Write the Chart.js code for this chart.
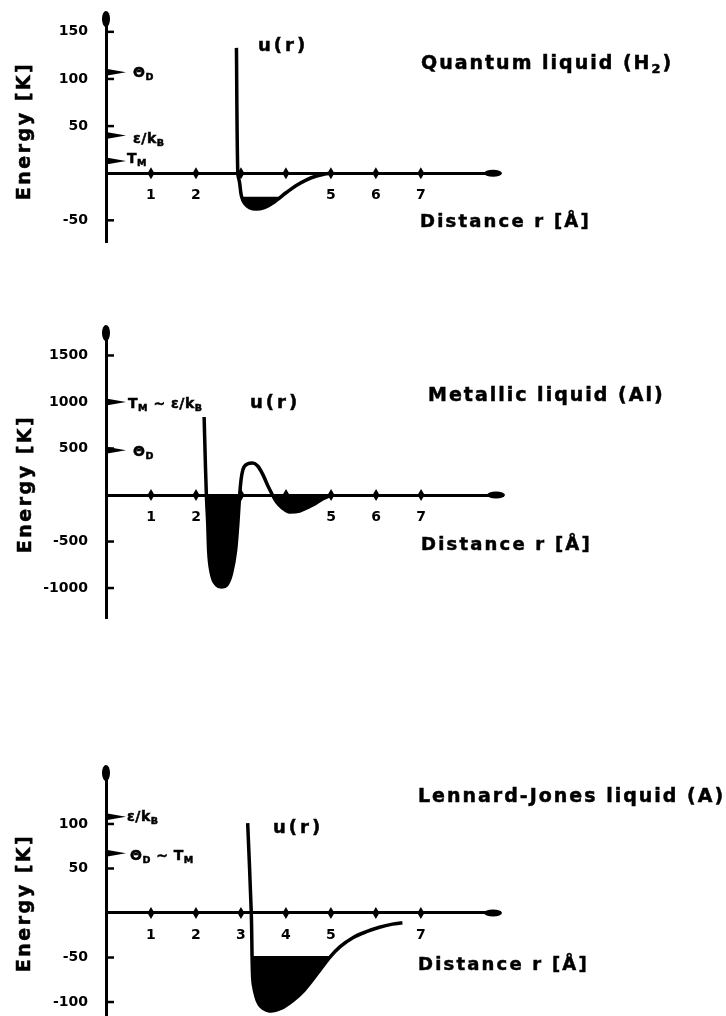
<!DOCTYPE html>
<html>
<head>
<meta charset="utf-8">
<title>Pair potentials</title>
<script src="https://cdn.jsdelivr.net/npm/chart.js@4.4.1/dist/chart.umd.min.js"></script>
<style>
  html, body { margin: 0; padding: 0; width: 726px; height: 1016px; overflow: hidden; background: #fff; }
  #page { position: relative; width: 726px; height: 1016px; overflow: hidden; }
  canvas { position: absolute; left: 0; }
  .t { position: absolute; font-family: "DejaVu Sans", sans-serif; font-weight: bold; color: #000; white-space: nowrap; line-height: 1; -webkit-text-stroke: 0.5px #000; }
  .t sub { font-size: 0.68em; vertical-align: -0.3em; line-height: 0; }
  .big { font-size: 19px; letter-spacing: 2px; }
  .dist { font-size: 18px; letter-spacing: 2.2px; }
  .ur { font-size: 18px; letter-spacing: 3px; }
  .mk { font-size: 14px; letter-spacing: 0.5px; }
  .ylab { font-size: 19px; letter-spacing: 2.5px; transform: translate(-50%, -50%) rotate(-90deg); }
</style>
</head>
<body>
<div id="page">
  <canvas id="h2" width="726" height="260" style="top:0px"></canvas>
  <canvas id="al" width="726" height="340" style="top:300px"></canvas>
  <canvas id="ar" width="726" height="310" style="top:740px"></canvas>

  <!-- panel 1 -->
  <div class="t ylab" style="left:23px; top:131px">Energy [K]</div>
  <div class="t ur" style="left:258px; top:36px">u(r)</div>
  <div class="t big" style="left:421px; top:53px">Quantum liquid (H<sub>2</sub>)</div>
  <div class="t dist" style="left:420px; top:212px">Distance r [Å]</div>
  <div class="t mk" style="left:133px; top:65px">Θ<sub>D</sub></div>
  <div class="t mk" style="left:133px; top:131px">ε/k<sub>B</sub></div>
  <div class="t mk" style="left:127px; top:151px">T<sub>M</sub></div>

  <!-- panel 2 -->
  <div class="t ylab" style="left:24px; top:484px">Energy [K]</div>
  <div class="t ur" style="left:250px; top:393px">u(r)</div>
  <div class="t big" style="left:428px; top:385px">Metallic liquid (Al)</div>
  <div class="t dist" style="left:421px; top:535px">Distance r [Å]</div>
  <div class="t mk" style="left:128px; top:396px">T<sub>M</sub> ~ ε/k<sub>B</sub></div>
  <div class="t mk" style="left:133px; top:444px">Θ<sub>D</sub></div>

  <!-- panel 3 -->
  <div class="t ylab" style="left:23px; top:903px">Energy [K]</div>
  <div class="t ur" style="left:273px; top:818px">u(r)</div>
  <div class="t big" style="left:418px; top:786px">Lennard-Jones liquid (A)</div>
  <div class="t dist" style="left:418px; top:955px">Distance r [Å]</div>
  <div class="t mk" style="left:127px; top:809px">ε/k<sub>B</sub></div>
  <div class="t mk" style="left:130px; top:848px">Θ<sub>D</sub> ~ T<sub>M</sub></div>
</div>

<script>
// --- données ---
// graduations de l'axe des distances (Å)
const xTickMarks = [1, 2, 3, 4, 5, 6, 7];

// liquide quantique (H2)
const h2R = [2.90, 2.93, 2.97, 3.01, 3.08, 3.19, 3.34, 3.52, 3.68, 3.81, 4.01, 4.23, 4.46, 4.68, 4.86, 5.00];
const h2U = [133, 0, -10, -24, -32, -36.5, -38, -36.5, -32.5, -28, -20.5, -13, -7, -3, -1, 0];
const h2FillLevel = -25;
const h2WellR = [3.01, 3.08, 3.19, 3.34, 3.52, 3.68, 3.86];
const h2WellU = [-25, -32, -36.5, -38, -36.5, -32.5, -25];
const h2XLabels = [1, 2, 5, 6, 7];
const h2YTicks = [150, 100, 50, -50];
const h2Marks = [107, 40, 13];        // Θ_D, ε/k_B, T_M

// liquide métallique (Al)
const alR = [2.18, 2.21, 2.23, 2.26, 2.28, 2.34, 2.46, 2.57, 2.68, 2.79, 2.88, 2.93, 2.97, 3.00, 3.04, 3.14, 3.26, 3.37, 3.48, 3.59, 3.70, 3.79, 3.92, 4.08, 4.30, 4.59, 4.81, 5.00];
const alU = [839, 300, 0, -301, -591, -839, -968, -990, -968, -839, -591, -301, 0, 161, 269, 333, 344, 312, 225, 105, 0, -75, -140, -183, -172, -108, -43, 0];
const alFillLevel = 0;
const alXLabels = [1, 2, 5, 6, 7];
const alYTicks = [1500, 1000, 500, -500, -1000];
const alMarks = [1000, 480];          // T_M ~ ε/k_B, Θ_D

// liquide de Lennard-Jones (A)
const arR = [3.15, 3.23, 3.26, 3.30, 3.41, 3.63, 3.90, 4.14, 4.40, 4.70, 4.97, 5.20, 5.48, 5.79, 6.08, 6.37, 6.59];
const arU = [101, 0, -72, -87, -103, -110, -107, -99, -87, -68, -50, -38, -28, -21, -16, -12.5, -11];
const arFillLevel = -50;
const arWellR = [3.245, 3.26, 3.30, 3.41, 3.63, 3.90, 4.14, 4.40, 4.70, 4.97];
const arWellU = [-50, -72, -87, -103, -110, -107, -99, -87, -68, -50];
const arXLabels = [1, 2, 3, 4, 5, 7];
const arYTicks = [100, 50, -50, -100];
const arMarks = [108, 67];            // ε/k_B, Θ_D ~ T_M

const pts = (xs, ys) => xs.map((x, i) => ({ x, y: ys[i] }));

Chart.defaults.font.family = '"DejaVu Sans", sans-serif';
Chart.defaults.color = '#000';

// flèches des axes, graduations et repères sur l'axe des énergies
const axisDeco = {
  id: 'axisDeco',
  afterDraw(chart, args, opts) {
    const { ctx, chartArea, scales: { x, y } } = chart;
    const x0 = x.getPixelForValue(0);
    const y0 = y.getPixelForValue(0);
    ctx.save();
    ctx.fillStyle = '#000';
    ctx.strokeStyle = '#000';

    // pointe en haut de l'axe vertical
    ctx.beginPath();
    ctx.ellipse(x0, chartArea.top + 6, 4, 8, 0, 0, Math.PI * 2);
    ctx.fill();
    // pointe à droite de l'axe horizontal
    ctx.beginPath();
    ctx.ellipse(chartArea.right - 7, y0, 9, 3.5, 0, 0, Math.PI * 2);
    ctx.fill();

    // losanges sur l'axe des distances
    xTickMarks.forEach(v => {
      const px = x.getPixelForValue(v);
      ctx.beginPath();
      ctx.moveTo(px, y0 - 6);
      ctx.lineTo(px + 3.5, y0);
      ctx.lineTo(px, y0 + 6);
      ctx.lineTo(px - 3.5, y0);
      ctx.closePath();
      ctx.fill();
    });

    // petites graduations à droite de l'axe vertical
    ctx.lineWidth = 2.5;
    opts.yTicks.forEach(v => {
      const py = y.getPixelForValue(v);
      ctx.beginPath();
      ctx.moveTo(x0, py);
      ctx.lineTo(x0 + 8, py);
      ctx.stroke();
    });

    // repères (Θ_D, ε/k_B, T_M)
    opts.marks.forEach(v => {
      const py = y.getPixelForValue(v);
      ctx.beginPath();
      ctx.moveTo(x0, py - 3.5);
      ctx.lineTo(x0 + 20, py);
      ctx.lineTo(x0, py + 3.5);
      ctx.closePath();
      ctx.fill();
    });
    ctx.restore();
  }
};

function scalesFor(xMax, yMin, yMax, xLabels, yTicks) {
  const tickFont = { family: '"DejaVu Sans", sans-serif', weight: 'bold', size: 14 };
  return {
    x: {
      type: 'linear', min: 0, max: xMax, position: { y: 0 },
      afterBuildTicks: s => { s.ticks = xLabels.map(v => ({ value: v })); },
      grid: { drawOnChartArea: false, drawTicks: true, tickLength: 12, tickColor: 'rgba(0,0,0,0)' },
      border: { display: true, color: '#000', width: 3 },
      ticks: { color: '#000', padding: 2, font: tickFont, autoSkip: false, maxRotation: 0, callback: v => String(v) }
    },
    y: {
      type: 'linear', min: yMin, max: yMax, position: 'left',
      afterBuildTicks: s => { s.ticks = yTicks.map(v => ({ value: v })); },
      afterFit: s => { s.width = 106; },
      grid: { drawOnChartArea: false, drawTicks: true, tickLength: 15, tickColor: 'rgba(0,0,0,0)' },
      border: { display: true, color: '#000', width: 3 },
      ticks: { color: '#000', padding: 3, font: tickFont, autoSkip: false, callback: v => String(v) }
    }
  };
}

function curveSet(xs, ys, smooth) {
  const ds = { data: pts(xs, ys), showLine: true, borderColor: '#000', borderWidth: 3.5, pointRadius: 0, fill: false };
  if (smooth === 'monotone') ds.cubicInterpolationMode = 'monotone';
  else ds.tension = 0.35;
  return ds;
}

function wellSet(xs, ys, level) {
  return {
    data: pts(xs, ys), showLine: true, borderWidth: 0, borderColor: 'rgba(0,0,0,0)', pointRadius: 0, tension: 0.35,
    fill: { target: { value: level }, above: '#000', below: '#000' }
  };
}

function makePanel(id, datasets, padding, scales, deco) {
  return new Chart(document.getElementById(id), {
    type: 'scatter',
    data: { datasets },
    options: {
      responsive: false,
      animation: false,
      layout: { padding },
      scales,
      plugins: { legend: { display: false }, tooltip: { enabled: false }, axisDeco: deco }
    },
    plugins: [axisDeco]
  });
}

makePanel('h2',
  [wellSet(h2WellR, h2WellU, h2FillLevel), curveSet(h2R, h2U)],
  { left: 0, right: 226, top: 13, bottom: 18 },
  scalesFor(8.76, -73, 170, h2XLabels, h2YTicks),
  { yTicks: h2YTicks, marks: h2Marks });

const alCurve = curveSet(alR, alU, 'monotone');
alCurve.fill = { target: { value: alFillLevel }, above: 'rgba(0,0,0,0)', below: '#000' };
makePanel('al',
  [alCurve],
  { left: 0, right: 223, top: 27, bottom: 22 },
  scalesFor(8.82, -1322, 1806, alXLabels, alYTicks),
  { yTicks: alYTicks, marks: alMarks });

makePanel('ar',
  [wellSet(arWellR, arWellU, arFillLevel), curveSet(arR, arU),
   { data: pts([arWellR[0], arWellR[arWellR.length - 1]], [arFillLevel, arFillLevel]), showLine: true, borderColor: '#000', borderWidth: 3, pointRadius: 0, fill: false }],
  { left: 0, right: 226, top: 27, bottom: 34 },
  scalesFor(8.76, -115.7, 164, arXLabels, arYTicks),
  { yTicks: arYTicks, marks: arMarks });
</script>
</body>
</html>
